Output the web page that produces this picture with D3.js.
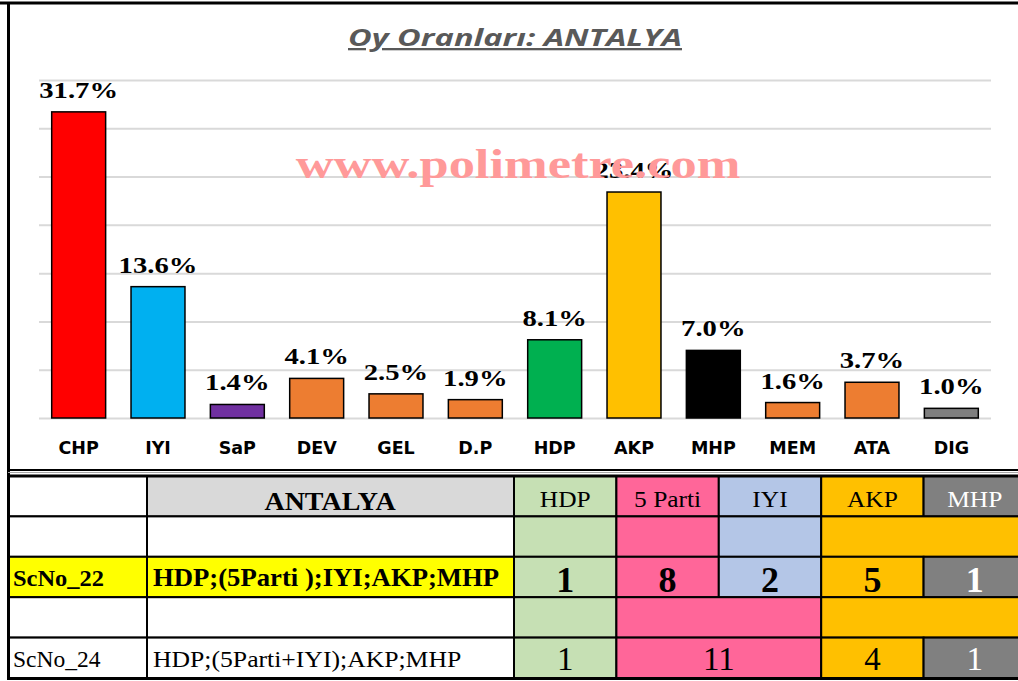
<!DOCTYPE html>
<html lang="tr">
  <head>
    <meta charset="utf-8">
    <title>Oy Oranlari ANTALYA</title>
    <script src="https://d3js.org/d3.v7.js"></script>
    <style>
      body { margin: 0; background: white; }
    </style>
  </head>
  <body>
    <script>

      // chart data
      const parties = ["CHP", "IYI", "SaP", "DEV", "GEL", "D.P", "HDP", "AKP", "MHP", "MEM", "ATA", "DIG"];
      const shares = [31.7, 13.6, 1.4, 4.1, 2.5, 1.9, 8.1, 23.4, 7.0, 1.6, 3.7, 1.0];
      const barColors = ["#ff0000", "#00b0f0", "#7030a0", "#ed7d31", "#ed7d31", "#ed7d31",
                         "#00b050", "#ffc000", "#000000", "#ed7d31", "#ed7d31", "#7f7f7f"];
      const gridTicks = [0, 5, 10, 15, 20, 25, 30, 35];

      // table data
      const tableCols = ["HDP", "5 Parti", "IYI", "AKP", "MHP"];
      const colColors = ["#c6e0b4", "#ff6699", "#b4c6e7", "#ffc000", "#808080"];
      const colTextColors = ["#000", "#000", "#000", "#000", "#fff"];
      const sc22Groups = [[0], [1], [2], [3, 4]];         // band row above ScNo_22
      const sc22Seats = [1, 8, 2, 5, 1];
      const sc24Groups = [[0], [1, 2], [3], [4]];          // merged cells of ScNo_24
      const sc24Bands = [[0], [1, 2], [3, 4]];
      const sc24Seats = [1, 11, 4, 1];

      const w = 1018;
      const h = 681;

      const svg = d3.select("body")
                    .append("svg")
                    .attr("width", w)
                    .attr("height", h);

      svg.append("rect")
         .attr("width", w)
         .attr("height", h)
         .attr("fill", "white");

      // ---------- bar chart ----------

      const plot = {left: 39, right: 991, top: 80, bottom: 418};

      const xScale = d3.scaleBand()
                       .domain(parties)
                       .range([plot.left, plot.right])
                       .paddingInner(0.32)
                       .paddingOuter(0.16);

      const yScale = d3.scaleLinear()
                       .domain([0, 35])
                       .range([plot.bottom, plot.top]);

      // gridlines
      svg.append("g")
         .attr("class", "grid")
         .attr("transform", `translate(${plot.left}, 0)`)
         .call(d3.axisLeft(yScale).tickValues(gridTicks).tickSize(-(plot.right - plot.left)).tickFormat(""))
         .call(g => g.select(".domain").remove())
         .call(g => g.selectAll("line").attr("stroke", "#d9d9d9").attr("stroke-width", 2));

      // title
      svg.append("text")
         .attr("x", 515)
         .attr("y", 46)
         .attr("text-anchor", "middle")
         .attr("font-family", "Open Sans")
         .attr("font-weight", "bold")
         .attr("font-style", "italic")
         .attr("font-size", 23)
         .attr("fill", "#595959")
         .attr("text-decoration", "underline")
         .attr("textLength", 334)
         .attr("lengthAdjust", "spacingAndGlyphs")
         .text("Oy Oranları: ANTALYA");

      // bars
      svg.append("g")
         .selectAll("rect")
         .data(parties)
         .join("rect")
         .attr("x", d => xScale(d))
         .attr("y", (d, i) => yScale(shares[i]))
         .attr("width", xScale.bandwidth())
         .attr("height", (d, i) => plot.bottom - yScale(shares[i]))
         .attr("fill", (d, i) => barColors[i])
         .attr("stroke", "black")
         .attr("stroke-width", 1.5);

      // value labels
      svg.append("g")
         .selectAll("text")
         .data(parties)
         .join("text")
         .attr("transform", (d, i) => `translate(${xScale(d) + xScale.bandwidth() / 2}, ${yScale(shares[i]) - 14}) scale(1.22, 1)`)
         .attr("text-anchor", "middle")
         .attr("font-family", "Liberation Serif")
         .attr("font-weight", "bold")
         .attr("font-size", 23.5)
         .attr("fill", "black")
         .text((d, i) => shares[i].toFixed(1) + "%");

      // category axis
      svg.append("g")
         .attr("transform", `translate(0, ${plot.bottom})`)
         .call(d3.axisBottom(xScale).tickSize(0).tickPadding(24))
         .call(g => g.select(".domain").remove())
         .call(g => g.selectAll("text")
                     .attr("font-family", "DejaVu Sans")
                     .attr("font-weight", "bold")
                     .attr("font-size", 17.5)
                     .attr("fill", "black"));

      // watermark
      svg.append("text")
         .attr("transform", "translate(518, 178) scale(1.22, 1)")
         .attr("text-anchor", "middle")
         .attr("font-family", "Liberation Serif")
         .attr("font-weight", "bold")
         .attr("font-size", 43)
         .attr("fill", "#ff9999")
         .text("www.polimetre.com");

      // ---------- table ----------

      const colX = d3.scaleBand()
                     .domain(tableCols)
                     .range([514, 514 + 5 * 102.4]);

      const rowIds = ["head", "band22", "sc22", "band24", "sc24"];
      const rowY = d3.scaleBand()
                     .domain(rowIds)
                     .range([476, 678]);

      const cw = colX.bandwidth();
      const rh = rowY.bandwidth();
      const tbl = svg.append("g");

      function cell(x, y, width, height, fill) {
        tbl.append("rect")
           .attr("x", x).attr("y", y)
           .attr("width", width).attr("height", height)
           .attr("fill", fill)
           .attr("stroke", "black")
           .attr("stroke-width", 2);
      }

      function label(x, y, str, opts) {
        tbl.append("text")
           .attr("transform", `translate(${x}, ${y}) scale(${opts.sx || 1}, 1)`)
           .attr("text-anchor", opts.anchor || "middle")
           .attr("font-family", "Liberation Serif")
           .attr("font-weight", opts.bold ? "bold" : "normal")
           .attr("font-size", opts.size)
           .attr("fill", opts.fill || "black")
           .text(str);
      }

      function groupCells(groups, row, fillFn) {
        groups.forEach(gr => {
          const x0 = colX(tableCols[gr[0]]);
          cell(x0, rowY(row), cw * gr.length, rh, fillFn(gr));
        });
      }

      // first two columns
      rowIds.forEach(r => {
        const yellow = r === "sc22";
        cell(9, rowY(r), 138, rh, yellow ? "#ffff00" : "white");
        cell(147, rowY(r), 367, rh, r === "head" ? "#d9d9d9" : (yellow ? "#ffff00" : "white"));
      });

      // header row
      tableCols.forEach((c, i) => {
        cell(colX(c), rowY("head"), cw, rh, colColors[i]);
        label(colX(c) + cw / 2, rowY("head") + 31, c, {size: 24, sx: 1.06, fill: colTextColors[i]});
      });
      label(330, rowY("head") + 34, "ANTALYA", {size: 25, sx: 1.12, bold: true});

      // ScNo_22
      groupCells(sc22Groups, "band22", gr => colColors[gr[0]]);
      tableCols.forEach((c, i) => {
        cell(colX(c), rowY("sc22"), cw, rh, colColors[i]);
        label(colX(c) + cw / 2, rowY("sc22") + 35, sc22Seats[i], {size: 36, bold: true, fill: colTextColors[i]});
      });
      label(13, rowY("sc22") + 29, "ScNo_22", {size: 23.5, sx: 1.04, bold: true, anchor: "start"});
      label(153, rowY("sc22") + 29, "HDP;(5Parti );IYI;AKP;MHP", {size: 24.5, sx: 1.09, bold: true, anchor: "start"});

      // ScNo_24
      groupCells(sc24Bands, "band24", gr => colColors[gr[0]]);
      sc24Groups.forEach((gr, k) => {
        const x0 = colX(tableCols[gr[0]]);
        cell(x0, rowY("sc24"), cw * gr.length, rh, colColors[gr[0]]);
        label(x0 + cw * gr.length / 2, rowY("sc24") + 32, sc24Seats[k], {size: 33, fill: colTextColors[gr[0]]});
      });
      label(13, rowY("sc24") + 29, "ScNo_24", {size: 23.5, anchor: "start"});
      label(153, rowY("sc24") + 29, "HDP;(5Parti+IYI);AKP;MHP", {size: 24, sx: 1.07, anchor: "start"});

      // outer frame lines
      svg.append("line").attr("x1", 0).attr("x2", w).attr("y1", 3).attr("y2", 3)
         .attr("stroke", "black").attr("stroke-width", 3);
      svg.append("line").attr("x1", 8.5).attr("x2", 8.5).attr("y1", 2).attr("y2", 680)
         .attr("stroke", "black").attr("stroke-width", 3);
      svg.append("line").attr("x1", 8).attr("x2", w).attr("y1", 470).attr("y2", 470)
         .attr("stroke", "black").attr("stroke-width", 2);
      svg.append("line").attr("x1", 8).attr("x2", w).attr("y1", 472.5).attr("y2", 472.5)
         .attr("stroke", "#a6a6a6").attr("stroke-width", 1);
      svg.append("line").attr("x1", 8).attr("x2", w).attr("y1", 476).attr("y2", 476)
         .attr("stroke", "black").attr("stroke-width", 3);
      svg.append("line").attr("x1", 8).attr("x2", w).attr("y1", 678.5).attr("y2", 678.5)
         .attr("stroke", "black").attr("stroke-width", 3);

    </script>
  </body>
</html>
